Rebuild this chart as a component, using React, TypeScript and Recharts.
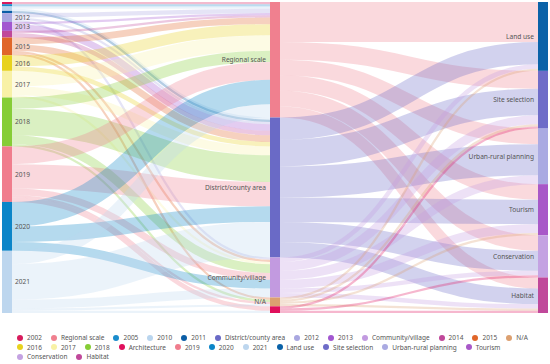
import React from 'react';
import { Sankey } from 'recharts';

const years = ['2002', '2005', '2010', '2011', '2012', '2013', '2014', '2015', '2016', '2017', '2018', '2019', '2020', '2021'];
const scales = ['Regional scale', 'District/county area', 'Community/village', 'N/A', 'Architecture'];
const themes = ['Land use', 'Site selection', 'Urban-rural planning', 'Tourism', 'Conservation', 'Habitat'];

// rows = years, columns = scales
const yearToScale: number[][] = [
  [1, 0, 0, 0, 0],
  [1, 0, 0, 0, 0],
  [1, 1, 0, 0, 0],
  [0, 1, 0, 0, 0],
  [2, 1, 1, 0, 0],
  [1, 3, 0, 0, 0],
  [1, 2, 0, 0, 0],
  [3, 3, 1, 1, 0],
  [5, 2, 0, 0, 0],
  [7, 4, 1, 0, 0],
  [5, 12, 4, 1, 0],
  [8, 11, 3, 1, 2],
  [11, 7, 4, 0, 0],
  [6, 16, 4, 1, 1],
];

// rows = scales, columns = themes
const scaleToTheme: number[][] = [
  [18, 8, 7, 7, 7, 5],
  [10, 12, 14, 11, 9, 7],
  [2, 4, 4, 4, 2, 2],
  [1, 1, 0, 1, 0, 1],
  [0, 1, 0, 0, 1, 1],
];

const legendRow1 = ['2002', 'Regional scale', '2005', '2010', '2011', 'District/county area', '2012', '2013', 'Community/village', '2014', '2015', 'N/A'];
const legendRow2 = ['2016', '2017', '2018', 'Architecture', '2019', '2020', '2021', 'Land use', 'Site selection', 'Urban-rural planning', 'Tourism'];
const legendRow3 = ['Conservation', 'Habitat'];

const colors: Record<string, string> = {
  '2002': '#d81b5c',
  '2005': '#1a8ccc',
  '2010': '#b9d5ee',
  '2011': '#0b5ea6',
  '2012': '#a9a7e0',
  '2013': '#a257d0',
  '2014': '#c0489a',
  '2015': '#e0662a',
  '2016': '#e8d21e',
  '2017': '#f8f1a6',
  '2018': '#86cd36',
  '2019': '#f07d8d',
  '2020': '#0b85c8',
  '2021': '#bdd6ee',
  'Regional scale': '#f0808f',
  'District/county area': '#6a6ac6',
  'Community/village': '#c29ae0',
  'N/A': '#dca070',
  'Architecture': '#e0105c',
  'Land use': '#0a62a8',
  'Site selection': '#6e6cc8',
  'Urban-rural planning': '#aaaae2',
  'Tourism': '#a858c8',
  'Conservation': '#c4a2e2',
  'Habitat': '#c0489a',
};

const nodeNames = [...years, ...scales, ...themes];
const nodes = nodeNames.map((name) => ({ name }));
const links: { source: number; target: number; value: number }[] = [];
yearToScale.forEach((row, i) =>
  row.forEach((v, j) => {
    if (v > 0) links.push({ source: i, target: years.length + j, value: v });
  })
);
scaleToTheme.forEach((row, i) =>
  row.forEach((v, j) => {
    if (v > 0) links.push({ source: years.length + i, target: years.length + scales.length + j, value: v });
  })
);

const FONT = '"Noto Sans", "Open Sans", sans-serif';

const CustomNode = (props: any) => {
  const { x, y, width, height, payload } = props;
  const name: string = payload.name;
  const isLeft = years.includes(name);
  return (
    <g>
      <rect x={x} y={y} width={width} height={height} fill={colors[name]} />
      {height >= 8 && (
        <text
          x={isLeft ? x + width + 3 : x - 4}
          y={y + height / 2}
          textAnchor={isLeft ? 'start' : 'end'}
          dominantBaseline="central"
          fontSize={6.6}
          fontFamily={FONT}
          fill="#555"
        >
          {name}
        </text>
      )}
    </g>
  );
};

const CustomLink = (props: any) => {
  const { sourceX, targetX, sourceY, targetY, sourceControlX, targetControlX, linkWidth, payload } = props;
  const color = colors[payload.source.name];
  return (
    <path
      d={`M${sourceX},${sourceY}C${sourceControlX},${sourceY} ${targetControlX},${targetY} ${targetX},${targetY}`}
      fill="none"
      stroke={color}
      strokeWidth={linkWidth}
      strokeOpacity={0.3}
    />
  );
};

const LegendRow = ({ items }: { items: string[] }) => (
  <div style={{ display: 'flex', whiteSpace: 'nowrap', height: 9.5, alignItems: 'center' }}>
    {items.map((name) => (
      <div key={name} style={{ display: 'flex', alignItems: 'center', marginRight: 9 }}>
        <span
          style={{
            display: 'inline-block',
            width: 6,
            height: 6,
            borderRadius: 3,
            background: colors[name],
            marginRight: 4,
          }}
        />
        <span>{name}</span>
      </div>
    ))}
  </div>
);

export default function App() {
  return (
    <div style={{ position: 'absolute', left: 0, top: 0, width: 550, height: 364, background: '#fff' }}>
      <Sankey
        width={550}
        height={364}
        data={{ nodes, links }}
        nodeWidth={10}
        nodePadding={0}
        iterations={0}
        margin={{ top: 2, left: 2, right: 2, bottom: 51 }}
        node={<CustomNode />}
        link={<CustomLink />}
      />
      <div
        style={{
          position: 'absolute',
          left: 17,
          top: 333,
          fontFamily: FONT,
          fontSize: 6.5,
          color: '#555',
          lineHeight: '9.5px',
        }}
      >
        <LegendRow items={legendRow1} />
        <LegendRow items={legendRow2} />
        <LegendRow items={legendRow3} />
      </div>
    </div>
  );
}
